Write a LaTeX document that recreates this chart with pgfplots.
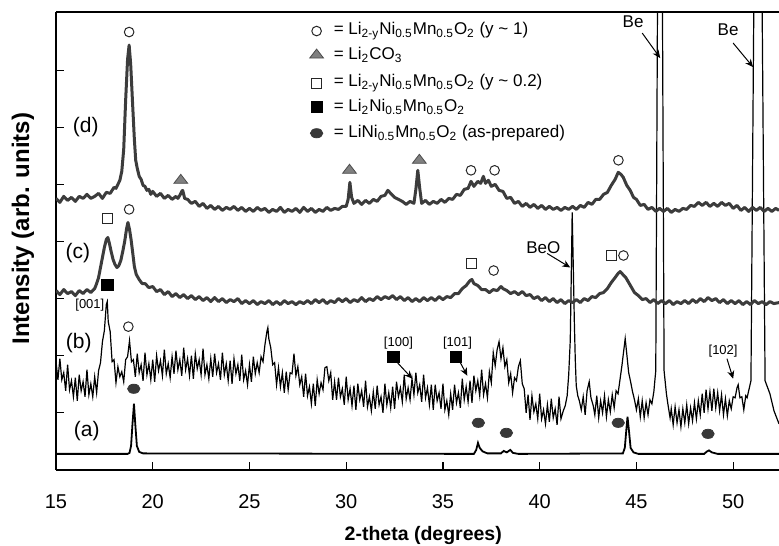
\documentclass[border=0pt]{standalone}
\usepackage{fontspec}
\setmainfont{Liberation Sans}
\usepackage{pgfplots}
\pgfplotsset{compat=1.18}
\usetikzlibrary{arrows.meta}
\definecolor{trace}{HTML}{3C3C3C}
\definecolor{tri}{HTML}{808080}
\definecolor{ell}{HTML}{383838}
\newcommand\legfont{\fontsize{8.5}{10}\selectfont}
\newcommand\tagfont{\fontsize{6.5}{8}\selectfont}
\begin{document}
\begin{tikzpicture}
\begin{axis}[
    name=ax,
    scale only axis, width=361.5pt, height=228.5pt,
    xmin=15, xmax=52.37, ymin=0, ymax=457,
    axis x line=box, axis y line=left,
    axis line style={-, line width=0.7pt},
    xtick={15,20,...,50}, xtick pos=left,
    ytick={57,114,...,399}, yticklabels={},
    tick align=inside, major tick length=4pt,
    every tick/.style={black, line width=0.6pt},
    /pgf/number format/assume math mode=true,
    xticklabel style={font=\fontsize{10}{12}\selectfont, yshift=-8.7pt},
    xlabel={2-theta (degrees)},
    xlabel style={at={(axis description cs:0.508,-0.155)}, anchor=base, font=\bfseries\fontsize{9.75}{12}\selectfont},
    ylabel={Intensity (arb. units)},
    ylabel style={at={(axis description cs:-0.0373,0.527)}, anchor=base, font=\bfseries\fontsize{12}{14}\selectfont},
    clip mode=individual,
]
% (a) as-prepared
\addplot[black, line width=0.9pt] coordinates {
(15,16) (18.7,16) (18.8,17) (18.88,24) (18.95,45) (19.03,66) (19.1,45) (19.18,24) (19.3,18) (19.5,16.5)
(36.6,16) (36.72,20) (36.81,27) (36.9,22) (37.05,18.5) (37.3,16.5) (38.0,16.5) (38.14,19) (38.3,17.5)
(38.48,20) (38.62,17) (38.9,16) (44.3,16.5) (44.4,22) (44.47,38) (44.54,53) (44.62,38) (44.7,22)
(44.85,17.5) (45.1,16) (48.5,16) (48.65,18.5) (48.75,19.5) (48.9,17.5) (49.2,16) (52.37,16)
};
% (b)
\addplot[black, line width=0.6pt] coordinates {
(15.0,108) (15.1,90) (15.2,111) (15.3,90) (15.4,97) (15.5,79) (15.6,105) (15.7,80) (15.8,89) (15.9,73)
(16.0,92) (16.1,69) (16.2,95) (16.3,79) (16.4,88) (16.5,73) (16.6,100) (16.7,75) (16.8,86) (16.9,73)
(17.0,93) (17.1,77) (17.2,99) (17.3,107) (17.4,128) (17.5,139) (17.6,165) (17.65,168) (17.7,148) (17.8,138)
(17.9,108) (18.0,110) (18.1,87) (18.2,103) (18.3,93) (18.4,98) (18.5,88) (18.6,110) (18.7,113) (18.8,129)
(18.9,108) (19.0,110) (19.1,93) (19.2,116) (19.3,97) (19.4,105) (19.5,89) (19.6,117) (19.7,95) (19.8,106)
(19.9,90) (20.0,110) (20.1,88) (20.2,114) (20.3,99) (20.4,109) (20.5,94) (20.6,120) (20.7,96) (20.8,106)
(20.9,92) (21.0,113) (21.1,96) (21.2,119) (21.3,100) (21.4,110) (21.5,94) (21.6,122) (21.7,100) (21.8,111)
(21.9,94) (22.0,114) (22.1,91) (22.2,116) (22.3,101) (22.4,110) (22.5,95) (22.6,121) (22.7,95) (22.8,105)
(22.9,91) (23.0,111) (23.1,93) (23.2,116) (23.3,97) (23.4,106) (23.5,90) (23.6,117) (23.7,95) (23.8,106)
(23.9,89) (24.0,109) (24.1,86) (24.2,111) (24.3,96) (24.4,105) (24.5,89) (24.6,115) (24.7,90) (24.8,99)
(24.9,85) (25.0,105) (25.1,88) (25.2,113) (25.3,96) (25.4,107) (25.5,97) (25.6,113) (25.7,108) (25.8,125)
(25.9,138) (25.95,142) (26.0,131) (26.1,122) (26.2,105) (26.3,107) (26.4,85) (26.5,102) (26.6,83) (26.7,97)
(26.8,77) (26.9,98) (27.0,80) (27.1,97) (27.2,96) (27.3,116) (27.4,94) (27.5,103) (27.6,85) (27.7,93)
(27.8,73) (27.9,96) (28.0,74) (28.1,83) (28.2,66) (28.3,86) (28.4,64) (28.5,90) (28.6,76) (28.7,87)
(28.8,80) (28.9,102) (29.0,103) (29.1,89) (29.2,97) (29.3,70) (29.4,88) (29.5,70) (29.6,92) (29.7,73)
(29.8,81) (29.9,65) (30.0,93) (30.1,70) (30.2,81) (30.3,64) (30.4,84) (30.5,60) (30.6,86) (30.7,70)
(30.8,79) (30.9,63) (31.0,89) (31.1,63) (31.2,73) (31.3,59) (31.4,78) (31.5,61) (31.6,84) (31.7,65)
(31.8,73) (31.9,57) (32.0,86) (32.1,65) (32.2,77) (32.3,62) (32.4,83) (32.5,61) (32.6,88) (32.7,73)
(32.8,82) (32.9,68) (33.0,95) (33.1,71) (33.2,82) (33.3,70) (33.4,91) (33.5,75) (33.6,97) (33.7,77)
(33.8,85) (33.9,68) (34.0,95) (34.1,72) (34.2,82) (34.3,65) (34.4,85) (34.5,60) (34.6,85) (34.7,69)
(34.8,77) (34.9,61) (35.0,86) (35.1,60) (35.2,69) (35.3,55) (35.4,76) (35.5,60) (35.6,85) (35.7,67)
(35.8,77) (35.9,62) (36.0,91) (36.1,70) (36.2,83) (36.3,68) (36.4,89) (36.5,67) (36.6,94) (36.7,79)
(36.8,89) (36.9,74) (37.0,100) (37.1,75) (37.2,86) (37.3,72) (37.4,98) (37.5,87) (37.6,117) (37.7,104)
(37.8,120) (37.9,128) (38.0,111) (38.1,122) (38.2,103) (38.3,110) (38.4,87) (38.5,96) (38.6,77) (38.7,92)
(38.8,89) (38.9,103) (39.0,109) (39.1,86) (39.2,81) (39.3,57) (39.4,75) (39.5,50) (39.6,74) (39.7,58)
(39.8,66) (39.9,51) (40.0,76) (40.1,51) (40.2,60) (40.3,46) (40.4,65) (40.5,48) (40.6,71) (40.7,52)
(40.8,61) (40.9,45) (41.0,73) (41.1,51) (41.22,59) (41.32,64) (41.42,74) (41.5,95) (41.58,129) (41.63,190)
(41.68,257) (41.74,200) (41.79,149) (41.84,110) (41.89,84) (41.97,74) (42.05,69) (42.15,60) (42.25,73) (42.35,55)
(42.45,79) (42.56,88) (42.65,72) (42.77,64) (42.85,55) (42.95,74) (43.05,52) (43.15,69) (43.25,57) (43.35,74)
(43.45,53) (43.55,70) (43.65,58) (43.75,75) (43.85,62) (43.95,79) (44.05,76) (44.15,90) (44.25,104) (44.35,120)
(44.42,131) (44.5,116) (44.6,97) (44.7,88) (44.8,78) (44.9,70) (45.0,60) (45.1,71) (45.2,53) (45.3,69)
(45.4,52) (45.5,67) (45.6,55) (45.7,70) (45.8,66) (45.9,78) (46.0,99) (46.22,1000) (46.43,99) (46.55,76)
(46.64,64) (46.74,52) (46.8,61) (46.9,45) (47.0,63) (47.1,47) (47.2,60) (47.3,43) (47.4,61) (47.5,47)
(47.6,65) (47.7,46) (47.8,62) (47.9,49) (48.0,67) (48.1,51) (48.2,69) (48.3,55) (48.4,76) (48.5,57)
(48.6,80) (48.7,61) (48.8,78) (48.9,59) (49.0,81) (49.1,62) (49.2,77) (49.3,59) (49.4,75) (49.5,55)
(49.6,71) (49.7,54) (49.8,69) (49.9,61) (50.0,73) (50.1,72) (50.2,82) (50.26,85) (50.35,72) (50.45,73)
(50.55,60) (50.65,74) (50.72,72) (50.92,89) (51.28,1000) (51.65,89) (51.9,76) (52.11,59) (52.25,52) (52.37,46)
};
% (c)
\addplot[trace, line width=1.5pt, line join=round] coordinates {
(15.0,179) (15.2,175) (15.4,180) (15.6,176) (15.8,178) (16.0,174) (16.2,179) (16.4,176) (16.6,180) (16.8,177)
(17.0,181) (17.1,186) (17.2,192) (17.3,202) (17.4,212) (17.5,222) (17.6,230) (17.68,232) (17.76,226) (17.85,218)
(17.95,210) (18.05,205) (18.15,202) (18.25,204) (18.35,209) (18.45,218) (18.55,228) (18.65,241) (18.72,247) (18.8,240)
(18.88,230) (18.97,216) (19.05,203) (19.15,195) (19.3,190) (19.45,186) (19.6,186) (19.8,182) (20.0,183) (20.2,178)
(20.4,180) (20.6,175) (20.8,178) (21.0,173) (21.2,176) (21.4,172) (21.6,175) (21.8,171) (22.0,174) (22.2,170)
(22.4,173) (22.6,169) (22.8,172) (23.0,168) (23.2,172) (23.4,168) (23.6,171) (23.8,167) (24.0,170) (24.2,168)
(24.4,171) (24.6,166) (24.8,169) (25.0,166) (25.2,169) (25.4,165) (25.6,168) (25.8,166) (26.0,169) (26.2,165)
(26.4,168) (26.6,165) (26.8,169) (27.0,166) (27.2,168) (27.4,165) (27.6,168) (27.8,166) (28.0,169) (28.2,166)
(28.4,170) (28.6,167) (28.8,170) (29.0,166) (29.2,169) (29.4,167) (29.6,171) (29.8,168) (30.0,171) (30.2,167)
(30.4,170) (30.6,168) (30.8,172) (31.0,168) (31.2,171) (31.4,169) (31.6,173) (31.8,170) (32.0,173) (32.2,171)
(32.4,174) (32.6,170) (32.8,173) (33.0,169) (33.2,172) (33.4,168) (33.6,171) (33.8,168) (34.0,172) (34.2,169)
(34.4,172) (34.6,169) (34.8,173) (35.0,170) (35.2,173) (35.4,172) (35.6,176) (35.8,176) (36.0,181) (36.2,184)
(36.4,189) (36.5,190) (36.6,186) (36.8,184) (37.0,180) (37.2,180) (37.4,177) (37.6,180) (37.8,179) (38.0,183)
(38.1,181) (38.3,179) (38.5,176) (38.7,178) (38.9,175) (39.1,178) (39.3,174) (39.5,175) (39.7,171) (39.9,173)
(40.1,169) (40.3,172) (40.5,168) (40.7,171) (40.9,167) (41.1,170) (41.3,166) (41.5,169) (41.7,167) (41.9,170)
(42.1,167) (42.3,171) (42.5,169) (42.7,173) (42.9,172) (43.1,176) (43.3,177) (43.5,181) (43.7,187) (43.9,192)
(44.05,196) (44.16,198) (44.3,195) (44.45,192) (44.6,187) (44.75,182) (44.9,177) (45.1,174) (45.3,170) (45.5,171)
(45.7,167) (45.9,170) (46.1,166) (46.3,169) (46.5,166) (46.7,169) (46.9,165) (47.1,168) (47.3,166) (47.5,169)
(47.7,166) (47.9,170) (48.1,167) (48.3,171) (48.5,168) (48.7,172) (48.9,169) (49.1,171) (49.3,167) (49.5,170)
(49.7,166) (49.9,169) (50.1,166) (50.3,169) (50.5,165) (50.7,168) (50.9,165) (51.1,169) (51.3,166) (51.5,168)
(51.7,165) (51.9,168) (52.1,166) (52.37,167)
};
% (d)
\addplot[trace, line width=1.5pt, line join=round] coordinates {
(15.0,271) (15.2,267) (15.4,273) (15.6,269) (15.8,272) (16.0,268) (16.2,273) (16.4,271) (16.6,275) (16.8,271)
(17.0,273) (17.2,276) (17.4,271) (17.6,277) (17.8,276) (18.0,282) (18.1,281) (18.2,285) (18.3,289) (18.4,298)
(18.5,320) (18.6,369) (18.7,410) (18.78,424) (18.86,405) (18.95,369) (19.05,330) (19.12,309) (19.2,301) (19.3,293)
(19.4,290) (19.5,284) (19.6,283) (19.7,279) (19.8,280) (19.9,275) (20.0,278) (20.2,273) (20.4,276) (20.6,271)
(20.8,274) (21.0,270) (21.2,273) (21.3,271) (21.4,274) (21.5,278) (21.55,279) (21.65,271) (21.8,270) (22.0,266)
(22.2,268) (22.4,263) (22.6,266) (22.8,261) (23.0,264) (23.2,260) (23.4,263) (23.6,259) (23.8,262) (24.0,260)
(24.2,263) (24.4,259) (24.6,262) (24.8,258) (25.0,261) (25.2,258) (25.4,262) (25.6,259) (25.8,261) (26.0,257)
(26.2,260) (26.4,258) (26.6,262) (26.8,257) (27.0,260) (27.2,258) (27.4,261) (27.6,257) (27.8,262) (28.0,258)
(28.2,261) (28.4,257) (28.6,260) (28.8,258) (29.0,262) (29.2,259) (29.4,261) (29.6,260) (29.8,263) (30.0,263)
(30.1,270) (30.19,287) (30.28,272) (30.4,266) (30.6,269) (30.8,265) (31.0,269) (31.2,266) (31.4,270) (31.6,268)
(31.8,273) (32.0,274) (32.15,279) (32.3,276) (32.5,272) (32.7,270) (32.9,268) (33.1,265) (33.3,268) (33.5,266)
(33.6,280) (33.7,299) (33.8,281) (33.9,266) (34.1,269) (34.3,265) (34.5,268) (34.7,266) (34.9,270) (35.1,267)
(35.3,271) (35.5,270) (35.7,275) (35.9,274) (36.1,280) (36.3,281) (36.45,288) (36.6,283) (36.8,288) (36.95,286)
(37.09,293) (37.2,286) (37.35,289) (37.5,283) (37.7,285) (37.9,279) (38.1,278) (38.3,271) (38.5,272) (38.7,266)
(38.9,268) (39.1,263) (39.3,266) (39.5,262) (39.7,265) (39.9,261) (40.1,264) (40.3,260) (40.5,263) (40.7,260)
(40.9,262) (41.1,259) (41.3,262) (41.5,260) (41.7,263) (41.9,260) (42.1,264) (42.3,262) (42.5,267) (42.7,265)
(42.9,270) (43.1,270) (43.3,275) (43.5,277) (43.7,284) (43.9,290) (44.06,297) (44.2,295) (44.32,292) (44.5,284)
(44.68,279) (44.85,272) (45.0,270) (45.2,264) (45.4,265) (45.6,260) (45.8,262) (46.0,258) (46.2,261) (46.4,258)
(46.6,261) (46.8,257) (47.0,260) (47.2,258) (47.4,261) (47.6,260) (47.8,264) (48.0,263) (48.2,267) (48.4,264)
(48.6,267) (48.8,263) (49.0,266) (49.2,263) (49.4,267) (49.6,264) (49.8,266) (50.0,261) (50.2,264) (50.4,259)
(50.6,262) (50.8,258) (51.0,262) (51.2,259) (51.4,262) (51.6,258) (51.8,261) (52.0,258) (52.2,261) (52.37,259)
};
% phase markers (last point of each = legend key)
\addplot[only marks, mark=o, mark size=2.4pt, mark options={draw=black!85, line width=0.5pt}] coordinates {
(18.78,437) (36.45,299) (37.67,299) (44.07,309) (18.78,260) (37.62,199) (44.33,214) (18.74,143) (28.47,438)};
\addplot[only marks, mark=triangle*, mark size=4pt, mark options={fill=tri, draw=black!70, line width=0.4pt, yscale=0.75}] coordinates {
(21.45,289) (30.17,299) (33.78,309) (28.47,414)};
\addplot[only marks, mark=square, mark size=2.5pt, mark options={draw=black!85, line width=0.5pt}] coordinates {
(17.68,251) (36.5,206) (43.73,214) (28.47,386)};
\addplot[only marks, mark=square*, mark size=2.8pt, mark options={fill=black, draw=black}] coordinates {
(17.66,185) (32.44,113) (35.69,113) (28.47,362)};
\addplot[only marks, mark=*, mark size=2.3pt, mark options={fill=ell, draw=ell, xscale=1.35}] coordinates {
(19.02,81) (36.83,47) (38.28,37) (44.06,47) (48.7,36) (28.47,336)};
% legend text
\node[anchor=west, inner sep=0pt, font=\legfont] at (axis cs:29.34,438) {= Li\textsubscript{2-y}Ni\textsubscript{0.5}Mn\textsubscript{0.5}O\textsubscript{2} (y \textasciitilde{} 1)};
\node[anchor=west, inner sep=0pt, font=\legfont] at (axis cs:29.34,414) {= Li\textsubscript{2}CO\textsubscript{3}};
\node[anchor=west, inner sep=0pt, font=\legfont] at (axis cs:29.34,386) {= Li\textsubscript{2-y}Ni\textsubscript{0.5}Mn\textsubscript{0.5}O\textsubscript{2} (y \textasciitilde{} 0.2)};
\node[anchor=west, inner sep=0pt, font=\legfont] at (axis cs:29.34,362) {= Li\textsubscript{2}Ni\textsubscript{0.5}Mn\textsubscript{0.5}O\textsubscript{2}};
\node[anchor=west, inner sep=0pt, font=\legfont] at (axis cs:29.34,336) {= LiNi\textsubscript{0.5}Mn\textsubscript{0.5}O\textsubscript{2} (as-prepared)};
% sample labels
\node[font=\fontsize{10.5}{12}\selectfont] at (axis cs:16.54,342) {(d)};
\node[font=\fontsize{10.5}{12}\selectfont] at (axis cs:16.13,216) {(c)};
\node[font=\fontsize{10.5}{12}\selectfont] at (axis cs:16.18,127) {(b)};
\node[font=\fontsize{10.5}{12}\selectfont] at (axis cs:16.59,39) {(a)};
% reflections
\node[font=\tagfont] at (axis cs:16.75,164) {[001]};
\node[font=\tagfont] at (axis cs:32.7,127) {[100]};
\node[font=\tagfont] at (axis cs:35.75,127) {[101]};
\node[font=\tagfont] at (axis cs:49.48,119) {[102]};
\draw[-{Stealth[length=4pt,width=3.5pt]}, line width=0.5pt] (axis cs:32.65,107) -- (axis cs:33.42,91);
\draw[-{Stealth[length=4pt,width=3.5pt]}, line width=0.5pt] (axis cs:35.9,107) -- (axis cs:36.26,94);
\draw[-{Stealth[length=4pt,width=3.5pt]}, line width=0.5pt] (axis cs:49.68,111) -- (axis cs:50.0,91);
% Be / BeO
\node[font=\fontsize{8.5}{10}\selectfont] at (axis cs:40.19,222) {BeO};
\node[font=\fontsize{8.5}{10}\selectfont] at (axis cs:44.83,447) {Be};
\node[font=\fontsize{8.5}{10}\selectfont] at (axis cs:49.74,439) {Be};
\draw[-{Stealth[length=4pt,width=3.5pt]}, line width=0.5pt] (axis cs:40.39,216) -- (axis cs:41.58,202);
\draw[-{Stealth[length=4pt,width=3.5pt]}, line width=0.5pt] (axis cs:45.3,436) -- (axis cs:46.23,411);
\draw[-{Stealth[length=4pt,width=3.5pt]}, line width=0.5pt] (axis cs:50.0,426) -- (axis cs:51.03,402);
\end{axis}
\pgfresetboundingbox
\path[use as bounding box] ([xshift=-28pt,yshift=-38pt]ax.south west) rectangle ([yshift=6pt]ax.north east);
\end{tikzpicture}
\end{document}
